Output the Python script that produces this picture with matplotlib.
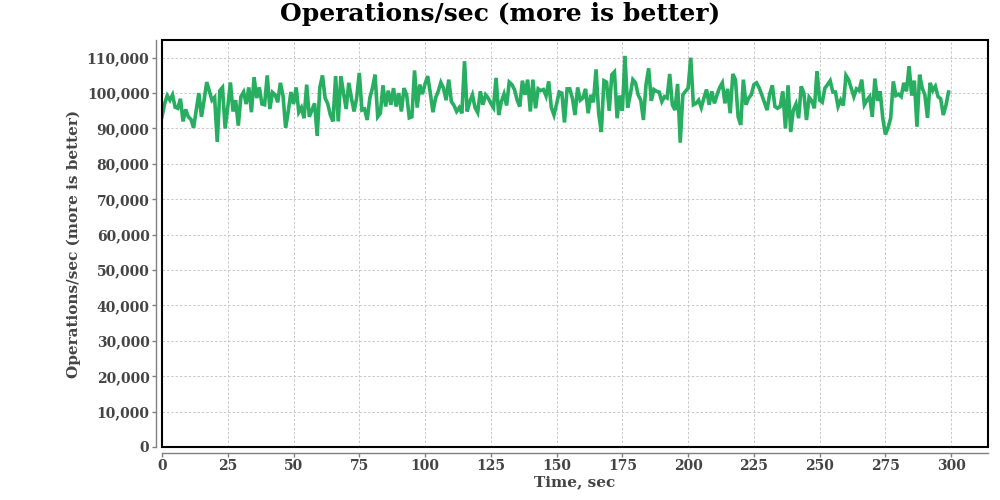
import matplotlib
matplotlib.use("Agg")
import matplotlib.pyplot as plt
from matplotlib.ticker import FuncFormatter, MultipleLocator
from matplotlib.patches import Rectangle

# operations per second, in thousands, one value per second (t = 0..299)
ops_part1 = [93.3, 97, 99.3, 98, 99.5, 96, 95.7, 98.4, 92, 95.4,
             93.3, 92.6, 90.2, 95, 100, 93.3, 98, 103.1, 100.5, 98,
             98.8, 86.2, 100.7, 101.6, 90, 96, 103, 94.8, 98, 90.8,
             99, 100.3, 96.9, 101.6, 94.6, 104.5, 98.6, 101.6]
ops_part2 = [96.9, 96.7, 105, 95.5, 100.2, 99.5, 97.4, 102.9, 99.3, 90.2,
             94.8, 100.3, 96.9, 101.6, 94.6, 95.9, 92.9, 102.4, 93.3, 95.2,
             97.1, 87.9, 101.6, 105, 98.6, 97, 93.8, 92, 104.8, 92,
             104.8, 100, 95.5, 102.9, 98.6, 94.8]
ops_part3 = [98.6, 105.7, 95.2, 95.5, 92.4, 98.6, 101.4, 105.2, 93.3, 94.3,
             102.2, 96.2, 100.7, 96.7, 101.4, 96.2, 100, 94.8, 101.4, 99.5,
             93, 93.3, 106.4, 95.9, 102.4, 99.7, 102.6, 104.8, 100, 94.6,
             98.6, 100.5, 103, 101.4, 98, 103.8, 97.6]
ops_part4 = [96.5, 94.8, 95.9, 94.3, 109, 94.8, 97.6, 99.5, 95.9, 94.5,
             100.5, 96.7, 99.5, 98.6, 97.1, 95.9, 104.3, 93.8, 97.6, 99.7,
             96.5, 103.1, 102.4, 101, 98, 96.2, 103.5, 99.5, 103.8, 94.8,
             103.8, 95.7, 101.2, 100.7, 101, 99.2]
ops_part5 = [103.3, 95.9, 93.8, 96.9, 100.3, 100, 91.7, 101.2, 101.2, 98.6,
             93.8, 101.6, 98, 98.6, 101.2, 94.3, 99.5, 97.4, 106.7, 94.3,
             89, 103.5, 103.1, 95, 105.2, 106, 92.9, 99.3, 95, 110.5,
             95.9, 99.5, 103.8, 102.9, 99.5, 98, 92.4]
ops_part6 = [102.4, 107, 97.8, 101, 100.5, 100.3, 97.6, 99, 98.6, 105.4,
             96.7, 95.2, 102.6, 86, 99.5, 100.5, 101.4, 110, 96.7, 97.1,
             98, 95.9, 98.6, 101, 96.7, 100.5, 97.1, 99.5, 101.6, 102.9,
             97.1, 101.2, 94.3, 105.4, 103.8, 93.3, 91, 103.8]
ops_part7 = [96.7, 98.6, 99.5, 102.4, 102.9, 101.5, 99.5, 97.4, 95.2, 99.7,
             102.2, 96.2, 95.7, 96.2, 100.5, 90, 102.2, 89, 95.2, 96.9,
             92.9, 101.9, 100, 92.4, 98.8, 97.8, 95.7, 106.2, 98, 97.4,
             101.4, 102.4, 103.5, 100.3, 100.3, 96.2, 98, 96.5]
ops_part8 = [105, 103.8, 101.4, 99, 101.2, 100.7, 103.8, 96.7, 98, 99,
             93.3, 104.1, 97.8, 100.5, 92.9, 88.3, 90.2, 92.9, 103.3, 99.3,
             99.7, 99, 102.9, 100.5, 107.6, 99.3, 103.5, 90.5, 105.2, 101.4,
             99.5, 93, 102.9, 100.7, 101.9, 99, 98.4, 93.8, 96.5, 100.3]

ops_k = (ops_part1 + ops_part2 + ops_part3 + ops_part4 +
         ops_part5 + ops_part6 + ops_part7 + ops_part8)
ops = [v * 1000 for v in ops_k]
seconds = list(range(len(ops)))

title = "Operations/sec (more is better)"
xlabel = "Time, sec"
ylabel = "Operations/sec (more is better)"

txt = "#444444"
font = "DejaVu Serif"

fig = plt.figure(figsize=(10, 5), dpi=100)
ax = fig.add_axes([0.162, 0.106, 0.826, 0.814])

ax.plot(seconds, ops, color="#27ae60", linewidth=2.6, solid_joinstyle="miter", zorder=3)

ax.set_xlim(0, 314)
ax.set_ylim(0, 115000)
ax.xaxis.set_major_locator(MultipleLocator(25))
ax.yaxis.set_major_locator(MultipleLocator(10000))
ax.xaxis.set_major_formatter(FuncFormatter(lambda v, p: f"{int(v)}" if v <= 300 else ""))
ax.yaxis.set_major_formatter(FuncFormatter(lambda v, p: f"{int(v):,}" if v <= 110000 else ""))

ax.grid(True, color="#c8c8c8", linestyle=(0, (2.5, 2)), linewidth=0.7)
ax.set_axisbelow(True)

for side in ["top", "right"]:
    ax.spines[side].set_visible(False)
for side in ["left", "bottom"]:
    ax.spines[side].set_position(("outward", 4))
    ax.spines[side].set_color("#808080")
    ax.spines[side].set_linewidth(1)
ax.add_patch(Rectangle((0, 0), 1, 1, transform=ax.transAxes, fill=False,
                       edgecolor="black", linewidth=1.5, zorder=5, clip_on=False))

ax.tick_params(axis="both", direction="out", length=3, width=1, color="#808080",
               labelcolor=txt, pad=2)
for lab in ax.get_xticklabels() + ax.get_yticklabels():
    lab.set_fontfamily(font)
    lab.set_fontweight("bold")
    lab.set_fontsize(10)

ax.set_xlabel(xlabel, fontfamily=font, fontweight="bold", fontsize=11, color=txt, labelpad=1)
ax.set_ylabel(ylabel, fontfamily=font, fontweight="bold", fontsize=11, color=txt, labelpad=4)
fig.suptitle(title, fontfamily=font, fontweight="heavy", fontsize=18, y=0.995, va="top")

fig.savefig("out.png", dpi=100)
